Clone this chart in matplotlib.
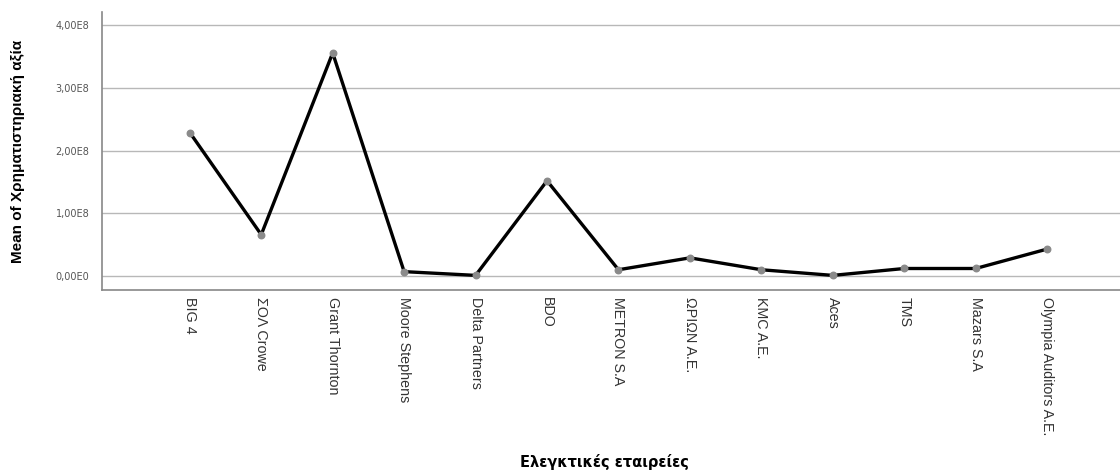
import matplotlib
matplotlib.use('Agg')
import matplotlib.pyplot as plt
from matplotlib.ticker import FuncFormatter, FixedLocator

companies = ['BIG 4', 'ΣΟΛ Crowe', 'Grant Thornton', 'Moore Stephens', 'Delta Partners', 'BDO',
             'METRON S.A', 'ΩΡΙΩΝ Α.Ε.', 'KMC A.E.', 'Aces', 'TMS', 'Mazars S.A',
             'Olympia Auditors A.E.']
mean_value = [229e6, 66e6, 356e6, 7e6, 1e6, 152e6,
              10e6, 29e6, 10e6, 1e6, 12e6, 12e6, 43e6]
y_ticks = [0, 1e8, 2e8, 3e8, 4e8]


def sci_comma(v, pos):
    if v == 0:
        return '0,00E0'
    exp = 0
    m = abs(v)
    while m >= 10:
        m /= 10
        exp += 1
    return ('%.2fE%d' % (m if v > 0 else -m, exp)).replace('.', ',')


fig = plt.figure(figsize=(11.2, 4.7), dpi=100)
ax = fig.add_axes([0.091, 0.383, 0.909, 0.591])

x = list(range(len(companies)))
ax.plot(x, mean_value, color='black', linewidth=2.4, zorder=3)
ax.scatter(x, mean_value, s=22, color='#8a8a8a', zorder=4)

ax.set_xlim(-1.23, 13.02)
ax.set_ylim(-0.223e8, 4.21e8)
ax.yaxis.set_major_locator(FixedLocator(y_ticks))
ax.yaxis.set_major_formatter(FuncFormatter(sci_comma))
ax.grid(axis='y', color='#b8b8b8', linewidth=1.0)
ax.set_axisbelow(True)

ax.set_xticks(x)
ax.set_xticklabels(companies, rotation=-90, ha='center', va='top',
                   fontsize=10.3, color='#333333', family='Liberation Sans')
ax.tick_params(axis='x', length=0, pad=5)
ax.tick_params(axis='y', length=0, pad=9, labelsize=7, labelcolor='#555555')

for side in ['top', 'right']:
    ax.spines[side].set_visible(False)
for side in ['left', 'bottom']:
    ax.spines[side].set_color('#888888')
    ax.spines[side].set_linewidth(1.2)

ax.set_ylabel('Mean of Χρηματιστηριακή αξία', fontsize=11, fontweight='bold',
              family='Liberation Sans', labelpad=22)
fig.text(0.54, 0.0, 'Ελεγκτικές εταιρείες', ha='center', va='bottom',
         fontsize=10.5, fontweight='bold', family='DejaVu Sans')

fig.savefig('out.png', dpi=100)
